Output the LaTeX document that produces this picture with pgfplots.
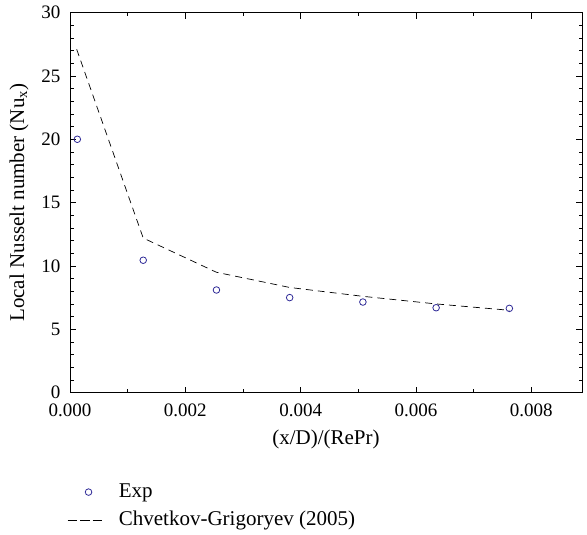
\documentclass[border=0pt]{standalone}
\usepackage{pgfplots}
\pgfplotsset{compat=1.18}
\usepackage{fontspec}
\setmainfont{Liberation Serif}
\definecolor{expblue}{RGB}{45,40,150}
\pgfplotsset{
  explegimg/.style={legend image code/.code={\draw[##1] plot coordinates {(21bp,0bp)};}},
  dashlegimg/.style={legend image code/.code={\draw[##1, dash pattern=on 9.5bp off 3bp] (0bp,0bp) -- (35bp,0bp);}},
}
\begin{document}
\fontsize{19bp}{23bp}\selectfont
\begin{tikzpicture}
\useasboundingbox (-70bp,-142.4bp) rectangle (517bp,392.6bp);
\begin{axis}[
  at={(0,0)}, anchor=south west,
  scale only axis, width=512bp, height=380bp,
  xmin=0, xmax=0.00888, ymin=0, ymax=30,
  xtick={0,0.002,0.004,0.006,0.008},
  minor x tick num=1,
  ytick={0,5,10,15,20,25,30},
  minor y tick num=4,
  tick align=inside,
  major tick length=6bp, minor tick length=3.5bp,
  tick style={black, line width=0.6pt},
  axis line style={line width=0.8pt},
  scaled x ticks=false,
  xticklabel style={yshift=-5bp, /pgf/number format/.cd, fixed, fixed zerofill, precision=3},
  yticklabel style={xshift=-3bp},
  /pgf/number format/assume math mode=true,
  xlabel={(x/D)/(RePr)},
  ylabel={Local Nusselt number (Nu\textsubscript{x})},
  label style={font=\fontsize{21bp}{25bp}\selectfont},
  xlabel style={yshift=0bp},
  ylabel style={yshift=0bp},
  legend style={draw=none, fill=none, at={(0,0)}, anchor=north west, xshift=-5bp, yshift=-87bp,
    row sep=7bp, inner sep=2bp, cells={anchor=west}, legend cell align=left,
    font=\fontsize{21bp}{25bp}\selectfont,
    /tikz/every odd column/.append style={column sep=14bp}},
]
\addplot[only marks, mark=o, mark size=3.3bp, color=expblue, mark options={line width=0.8pt}, explegimg]
  coordinates {
  (0.000127,20.0) (0.00127,10.45) (0.00254,8.1) (0.00381,7.5) (0.00508,7.15) (0.00635,6.7) (0.00762,6.65)
};
\addlegendentry{Exp}
\addplot[black, line width=0.7pt, dash pattern=on 7bp off 5bp, no marks, dashlegimg]
  coordinates {
  (0.000116,27.1) (0.00127,12.2) (0.00254,9.5) (0.00381,8.3) (0.00508,7.6) (0.00635,7.0) (0.00762,6.5)
};
\addlegendentry{Chvetkov-Grigoryev (2005)}
\end{axis}
\end{tikzpicture}
\end{document}
